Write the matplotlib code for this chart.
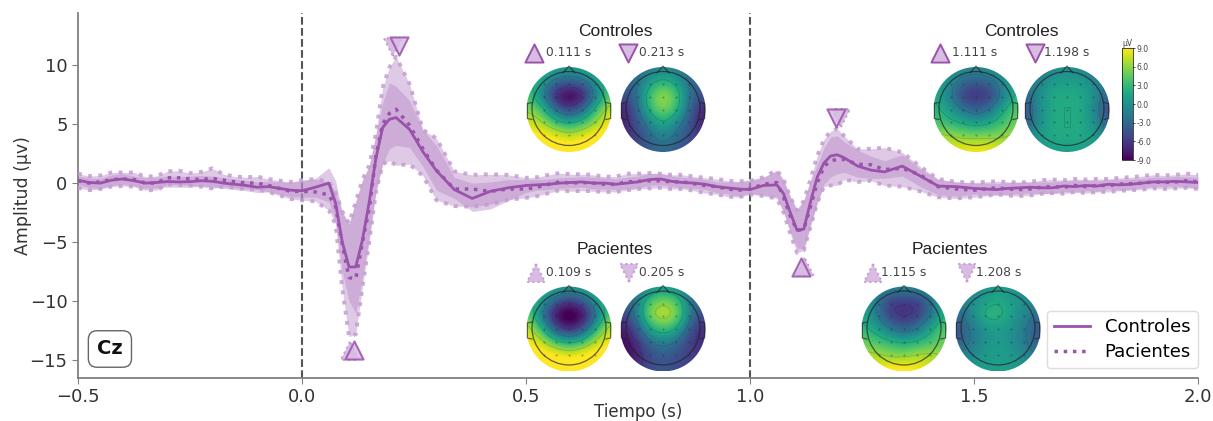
import numpy as np
import matplotlib
matplotlib.use('Agg')
import matplotlib.pyplot as plt
from matplotlib.patches import Circle

# time base, denser around the two evoked responses
t_pre = [-0.5, -0.475, -0.45, -0.425, -0.4, -0.375, -0.35, -0.325, -0.3, -0.275,
         -0.25, -0.225, -0.2, -0.175, -0.15, -0.125, -0.1, -0.075, -0.05, -0.025]
t_p1 = [0.0, 0.03, 0.06, 0.075, 0.09, 0.105, 0.12, 0.135, 0.15, 0.165,
        0.18, 0.195, 0.21, 0.24, 0.27, 0.30, 0.34, 0.38, 0.42, 0.46]
t_mid = [0.5, 0.525, 0.55, 0.575, 0.6, 0.625, 0.65, 0.675, 0.7, 0.725,
         0.75, 0.775, 0.8, 0.825, 0.85, 0.875, 0.9, 0.925, 0.95, 0.975]
t_p2 = [1.0, 1.03, 1.06, 1.075, 1.09, 1.105, 1.12, 1.135, 1.15, 1.165,
        1.18, 1.195, 1.21, 1.24, 1.27, 1.30, 1.34, 1.38, 1.42, 1.46]
t_post = [1.5, 1.525, 1.55, 1.575, 1.6, 1.625, 1.65, 1.675, 1.7, 1.725,
          1.75, 1.775, 1.8, 1.825, 1.85, 1.875, 1.9, 1.925, 1.95, 1.975, 2.0]
tiempo = t_pre + t_p1 + t_mid + t_p2 + t_post

controles = ([.25, .05, .0, .25, .35, .2, .0, .05, .13, .1, .12, .2, .15, .0, -.1, -.2, -.35, -.3, -.45, -.6]
             + [-.65, -.35, .0, -1.7, -5.0, -7.1, -7.1, -4.8, -1.6, 2.1, 4.7, 5.4, 5.55, 4.55, 2.65, 1.05, -.55, -1.3, -.7, -.4]
             + [-.2, -.15, -.1, .0, .05, .1, .0, .0, -.1, .0, .1, .3, .35, .15, .05, .0, -.1, -.3, -.4, -.5]
             + [-.55, -.2, -.15, -.9, -2.5, -4.0, -3.9, -1.6, .5, 1.7, 2.3, 2.4, 2.15, 1.45, 1.1, .95, 1.44, .6, -.25, -.3]
             + [-.45, -.5, -.55, -.45, -.4, -.35, -.4, -.4, -.25, -.3, -.2, -.25, -.1, -.15, -.1, .0, .1, .1, .15, .1, .05])
pacientes = ([.2, .0, .1, .3, .35, .3, .0, .0, .45, .45, .35, .3, .4, .25, .1, .0, .0, -.2, -.45, -.7]
             + [-.7, -.75, -1.0, -2.0, -5.2, -8.0, -8.1, -5.0, -2.2, 2.3, 5.0, 5.9, 6.25, 4.9, 2.9, 1.1, -.5, -.5, -.7, -.5]
             + [-.5, -.35, -.1, .1, .0, .05, .0, -.1, -.1, .1, .15, .2, .2, .1, .1, -.05, -.2, -.3, -.5, -.6]
             + [-.5, -.1, .05, -1.2, -2.8, -4.0, -3.9, -2.0, .0, 1.4, 1.9, 2.0, 2.0, 1.6, 1.55, 1.15, 1.25, .7, -.3, -.5]
             + [-.6, -.5, -.4, -.5, -.55, -.5, -.35, -.3, -.35, -.2, -.3, -.2, -.2, -.1, -.05, .0, .1, .05, .1, .2, .1])
ctrl_sup = ([.6, .45, .4, .7, .8, .6, .45, .5, .6, .55, .6, .65, .6, .45, .35, .25, .1, .15, .1, .05]
            + [.2, .4, 1.3, .2, -2.5, -3.5, -1.5, .2, 1.4, 4.0, 6.8, 8.5, 8.2, 7.0, 4.5, 3.2, .5, .0, .1, .3]
            + [.3, .3, .35, .45, .5, .55, .5, .45, .35, .5, .6, .8, .85, .6, .5, .45, .3, .1, .1, .1]
            + [.3, .5, 1.0, .2, -1.1, -2.2, -1.4, .1, 1.5, 3.0, 3.9, 4.0, 3.5, 2.8, 2.3, 1.9, 2.4, 1.2, .3, .1]
            + [.0, .0, -.05, .05, .1, .1, .1, .1, .2, .2, .25, .2, .3, .3, .35, .4, .5, .5, .55, .55, .5])
ctrl_inf = ([-.1, -.4, -.45, -.2, -.1, -.25, -.45, -.4, -.35, -.35, -.35, -.25, -.3, -.45, -.55, -.65, -.8, -.75, -.95, -1.15]
            + [-1.2, -1.2, -1.6, -3.3, -7.5, -10.0, -11.0, -8.0, -4.6, -.7, 1.6, 2.9, 3.2, 3.0, 1.4, -.6, -1.3, -2.4, -2.2, -1.5]
            + [-.8, -.6, -.55, -.45, -.4, -.35, -.5, -.5, -.55, -.5, -.4, -.2, -.15, -.3, -.4, -.45, -.55, -.8, -.9, -1.1]
            + [-.9, -1.0, -1.2, -2.4, -4.1, -5.5, -5.6, -3.5, -1.7, -.1, .5, .8, .9, .5, .4, .4, .6, -.3, -1.0, -1.1]
            + [-.95, -1.0, -1.05, -.95, -.9, -.85, -.9, -.9, -.7, -.8, -.65, -.7, -.5, -.6, -.55, -.4, -.3, -.3, -.25, -.35, -.4])
pac_sup = ([.8, .6, .65, .9, .9, .9, .55, .6, 1.0, 1.05, .85, .95, 1.25, .75, .55, .5, .55, .35, .2, .1]
           + [.25, .35, .1, -.8, -2.4, -3.4, -1.6, .3, 1.5, 4.2, 8.1, 9.8, 10.7, 8.4, 4.5, 3.8, 1.0, .7, .75, .7]
           + [.45, .5, .7, .85, .75, .75, .7, .55, .55, .8, .8, .85, .8, .7, .7, .55, .45, .35, .2, .15]
           + [.2, .5, 1.1, .3, -1.2, -2.3, -1.5, .3, 2.3, 3.7, 4.4, 4.6, 4.0, 2.9, 2.9, 3.0, 2.6, 1.4, .35, .1]
           + [.05, .1, .15, .1, .05, .1, .25, .3, .25, .35, .3, .35, .35, .45, .5, .6, .7, .65, .7, .8, .7])
pac_inf = ([-.4, -.6, -.5, -.3, -.25, -.3, -.6, -.6, -.1, -.15, -.2, -.3, -.45, -.3, -.4, -.5, -.55, -.75, -1.05, -1.35]
           + [-1.45, -1.55, -2.3, -3.5, -9.0, -13.0, -12.8, -8.8, -5.0, -.8, 1.6, 1.9, 1.5, 1.6, .6, -1.45, -1.95, -2.0, -1.8, -1.4]
           + [-1.25, -1.1, -.85, -.6, -.7, -.65, -.7, -.75, -.75, -.6, -.5, -.45, -.4, -.5, -.5, -.65, -.85, -.95, -1.15, -1.2]
           + [-.95, -1.1, -1.3, -2.5, -4.3, -5.9, -5.7, -3.7, -1.7, -.3, -.2, -.2, .3, .1, .2, -.2, -.3, -.7, -1.2, -1.3]
           + [-1.2, -1.1, -.95, -1.05, -1.1, -1.05, -.9, -.85, -.9, -.75, -.85, -.75, -.75, -.65, -.6, -.55, -.45, -.5, -.45, -.4, -.5])

# topographic maps, grid (front row first)
topo_c1 = [[3, 3, 2, 1, 2, 3, 3], [4, 1, -3, -4, -3, 1, 4], [4, -1, -8, -10, -8, -1, 5], [6, 4, -3, -6, -3, 4, 8],
           [8, 7, 4, 2, 4, 7, 9], [9, 10, 9, 8, 9, 10, 10], [10, 10, 10, 10, 10, 10, 10]]
topo_c2 = [[-3, -3, -2, -1, -2, -3, -3], [-4, -3, 1, 3, 1, -3, -4], [-5, -3, 4, 7, 4, -3, -5], [-8, -4, 3, 6, 3, -4, -8],
           [-8, -5, -1, 2, -1, -5, -8], [-7, -6, -3, -1, -3, -5, -7], [-5, -5, -4, -3, -4, -5, -5]]
topo_c3 = [[1, 1, 0, 0, 0, 1, 1], [2, 0, -3, -4, -3, 0, 2], [2, -1, -6, -7, -6, -1, 3], [3, 1, -2, -4, -2, 2, 5],
           [4, 3, 2, 1, 2, 4, 5], [7, 7, 6, 6, 6, 6, 7], [8, 8, 9, 9, 9, 8, 8]]
topo_c4 = [[-2, -2, -1, 0, -1, -2, -2], [-2, -1, 1, 1, 1, -1, -2], [-3, 0, 2, 2, 2, 0, -4], [-5, 0, 2, 2, 2, -1, -6],
           [-4, 0, 2, 2, 2, 0, -4], [-1, 1, 2, 2, 2, 1, -2], [0, 1, 1, 1, 1, 1, 0]]
topo_p1 = [[3, 3, 2, 1, 2, 3, 3], [4, 1, -4, -6, -4, 1, 4], [5, -2, -9, -11, -9, -2, 5], [8, 3, -5, -8, -5, 3, 8],
           [9, 8, 4, 2, 4, 8, 9], [10, 10, 10, 9, 10, 10, 10], [10, 10, 10, 10, 10, 10, 10]]
topo_p2 = [[-3, -3, -1, 0, -1, -3, -3], [-4, -2, 4, 6, 4, -2, -4], [-6, -2, 6, 8, 6, -2, -6], [-8, -5, 2, 4, 2, -5, -7],
           [-9, -7, -3, -1, -3, -6, -7], [-9, -8, -5, -4, -5, -6, -6], [-6, -6, -5, -4, -5, -5, -5]]
topo_p3 = [[1, 1, 0, 0, 0, 1, 1], [2, -2, -6, -6, -6, -2, 2], [2, -2, -6, -7, -6, -2, 3], [3, 1, -2, -4, -2, 2, 5],
           [5, 4, 3, 2, 3, 4, 5], [7, 7, 6, 6, 7, 7, 6], [8, 9, 10, 10, 9, 8, 7]]
topo_p4 = [[-1, -1, 0, 1, 0, -1, -1], [-2, 0, 1, 2, 1, 0, -2], [-3, -1, 3, 3, 1, -1, -3], [-5, -2, 0, 1, 0, -2, -5],
           [-4, -2, 0, 1, 0, -2, -4], [-1, -1, 1, 1, 1, -1, -2], [0, 1, 1, 1, 1, 0, 0]]

cb_ticks = [9, 6, 3, 0, -3, -6, -9]
purple = '#9a52ab'
banda = '#c59bd3'
mfc = '#d8bce2'

fig = plt.figure(figsize=(12.13, 4.21), dpi=100)
W, H = 1213., 421.
ax = fig.add_axes([78 / W, 1 - 378 / H, 1120 / W, 365 / H])

ax.fill_between(tiempo, ctrl_inf, ctrl_sup, color='#b98bc9', alpha=0.45, lw=0, zorder=2)
ax.fill_between(tiempo, pac_inf, pac_sup, color='#b98bc9', alpha=0.45, lw=0, zorder=2)
ax.plot(tiempo, pac_sup, ls=':', lw=2.8, color=banda, alpha=.85, zorder=3)
ax.plot(tiempo, pac_inf, ls=':', lw=2.8, color=banda, alpha=.85, zorder=3)
ax.plot(tiempo, controles, color=purple, lw=2, label='Controles', zorder=5)
ax.plot(tiempo, pacientes, color=purple, lw=2.5, ls=':', label='Pacientes', zorder=5)

ax.axvline(0, color='#555555', ls='--', lw=1.5, zorder=1)
ax.axvline(1, color='#555555', ls='--', lw=1.5, zorder=1)

# peak markers over the curves
ax.scatter([0.107, 1.122], [-14.2, -7.1], marker='^', s=170, c=mfc, edgecolors=banda, linewidths=1.5, linestyles=':', zorder=6)
ax.scatter([0.203, 1.203], [11.5, 5.5], marker='v', s=170, c=mfc, edgecolors=banda, linewidths=1.5, linestyles=':', zorder=6)
ax.scatter([0.116, 1.114], [-14.1, -7.1], marker='^', s=170, c=mfc, edgecolors=purple, linewidths=1.5, alpha=.85, zorder=7)
ax.scatter([0.2165, 1.192], [11.6, 5.5], marker='v', s=170, c=mfc, edgecolors=purple, linewidths=1.5, alpha=.85, zorder=7)

ax.set_xlim(-0.5, 2.0)
ax.set_ylim(-16.5, 14.4)
ax.set_xticks([-0.5, 0, 0.5, 1.0, 1.5, 2.0])
ax.set_yticks([-15, -10, -5, 0, 5, 10])
ax.tick_params(labelsize=13, colors='#808080', labelcolor='#333333', length=4)
ax.set_xlabel('Tiempo (s)', fontsize=12, color='#333333', labelpad=-2.5)
ax.set_ylabel('Amplitud (µv)', fontsize=12.5, color='#333333', labelpad=-2)
for s in ['top', 'right']:
    ax.spines[s].set_visible(False)
for s in ['left', 'bottom']:
    ax.spines[s].set_color('#808080')
    ax.spines[s].set_linewidth(1.3)

ax.text(0.0285, 0.0795, 'Cz', transform=ax.transAxes, fontsize=14, fontweight='bold', color='#111111', ha='center', va='center',
        bbox=dict(boxstyle='round,pad=0.45', fc='white', ec='#666666', lw=1))
ax.legend(loc='lower right', fontsize=13, frameon=True, edgecolor='#dddddd', framealpha=1,
          bbox_to_anchor=(1.0, 0.027), borderaxespad=0, handlelength=2.0, labelspacing=.38, borderpad=.4)

# overlay in pixel coordinates for the head maps
ov = fig.add_axes([0, 0, 1, 1], zorder=10)
ov.patch.set_alpha(0)
ov.axis('off')


def suavizar(grid, n=61):
    # only for drawing: resample the coarse grid and soften it
    g = np.array(grid, dtype=float)
    old = np.linspace(0, 1, g.shape[0])
    new = np.linspace(0, 1, n)
    g = np.array([np.interp(new, old, row) for row in g])
    g = np.array([np.interp(new, old, col) for col in g.T]).T
    k = np.ones(9) / 9.
    for i in range(2):
        g = np.pad(g, 4, mode='edge')
        g = np.apply_along_axis(lambda m: np.convolve(m, k, mode='valid'), 0, g)
        g = np.apply_along_axis(lambda m: np.convolve(m, k, mode='valid'), 1, g)
    return g


def cabeza(grid, cx, cy, r=42.5):
    g = suavizar(grid)
    im = ov.imshow(g, extent=(cx - r, cx + r, cy + r, cy - r), origin='upper', cmap='viridis',
                   vmin=-9, vmax=9, interpolation='bilinear', aspect='auto', zorder=1)
    im.set_clip_path(Circle((cx, cy), r, transform=ov.transData))
    xs = np.linspace(cx - r, cx + r, g.shape[1])
    ys = np.linspace(cy - r, cy + r, g.shape[0])
    cs = ov.contour(xs, ys, g, levels=[-6, -2, 2, 6], colors='k', linewidths=.5, alpha=.18, zorder=2)
    cs.set_clip_path(Circle((cx, cy), r, transform=ov.transData))
    # head outline, nose, ears
    ov.add_patch(Circle((cx, cy - 1), r * .87, fc='none', ec='#222222', lw=.9, alpha=.7, zorder=3))
    ov.plot([cx - 6, cx, cx + 6], [cy - r * .86, cy - r - 1, cy - r * .86], color='#222222', lw=.8, alpha=.7, zorder=3)
    for sg in (-1, 1):
        ov.plot([cx + sg * r * .87, cx + sg * r * .98, cx + sg * r * .98, cx + sg * r * .87],
                [cy - 7, cy - 6, cy + 9, cy + 10], color='#222222', lw=.8, alpha=.7, zorder=3)
    # sensors
    for fx in [-.6, -.3, 0, .3, .6]:
        for fy in [-.6, -.3, 0, .3, .6]:
            ov.plot(cx + fx * r, cy + fy * r, '.', ms=.8, color='#222222', alpha=.45, zorder=3)


cabeza(topo_c1, 569, 109.5)
cabeza(topo_c2, 663, 109.5)
cabeza(topo_c3, 976, 109.5)
cabeza(topo_c4, 1067, 109.5)
cabeza(topo_p1, 569, 329)
cabeza(topo_p2, 663, 329)
cabeza(topo_p3, 904, 329)
cabeza(topo_p4, 998, 329)

tit_kw = dict(fontsize=12.5, family='Liberation Sans', color='#222222', ha='center', va='center')
ov.text(615, 31, 'Controles', **tit_kw)
ov.text(1021, 31, 'Controles', **tit_kw)
ov.text(615, 250, 'Pacientes', **tit_kw)
ov.text(950, 250, 'Pacientes', **tit_kw)

lab_kw = dict(fontsize=8.8, color='#444444', ha='left', va='center')
ov.text(546, 53, '0.111 s', **lab_kw)
ov.text(639, 53, '0.213 s', **lab_kw)
ov.text(952, 53, '1.111 s', **lab_kw)
ov.text(1044, 53, '1.198 s', **lab_kw)
ov.text(546, 273, '0.109 s', **lab_kw)
ov.text(639, 273, '0.205 s', **lab_kw)
ov.text(881, 273, '1.115 s', **lab_kw)
ov.text(976, 273, '1.208 s', **lab_kw)

ov.scatter([534, 940], [53, 53], marker='^', s=170, c=mfc, edgecolors=purple, linewidths=1.4)
ov.scatter([628, 1035], [53, 53], marker='v', s=170, c=mfc, edgecolors=purple, linewidths=1.4)
ov.scatter([536, 873], [273, 273], marker='^', s=170, c=mfc, edgecolors=banda, linewidths=1.4, linestyles=':')
ov.scatter([629, 967], [273, 273], marker='v', s=170, c=mfc, edgecolors=banda, linewidths=1.4, linestyles=':')

ov.set_xlim(0, W)
ov.set_ylim(H, 0)

# colour bar
cax = fig.add_axes([1122 / W, 1 - 160 / H, 11 / W, 112 / H], zorder=11)
sm = plt.cm.ScalarMappable(cmap='viridis', norm=plt.Normalize(-9, 9))
cb = fig.colorbar(sm, cax=cax)
cb.set_ticks(cb_ticks)
cb.set_ticklabels(['%.1f' % v for v in cb_ticks])
cb.ax.tick_params(labelsize=5.5, length=1.5, width=.5, pad=1, labelcolor='#444444')
cb.outline.set_linewidth(.5)
cb.ax.set_title('µV', fontsize=5.5, pad=1, color='#444444')

fig.savefig('out.png', dpi=100)
